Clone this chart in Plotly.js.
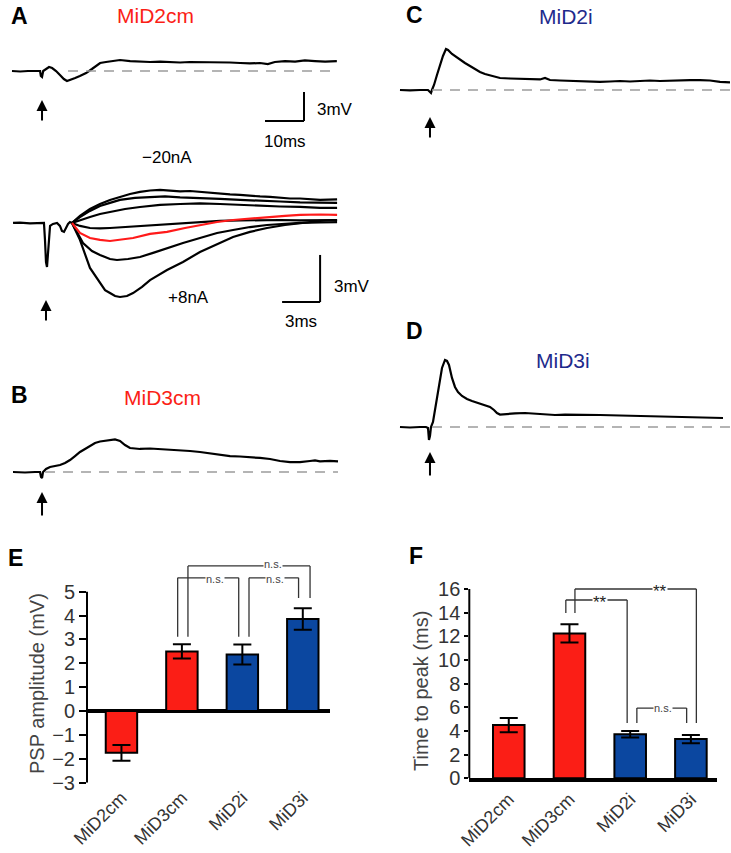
<!DOCTYPE html>
<html>
<head>
<meta charset="utf-8">
<script src="https://cdn.plot.ly/plotly-3.0.1.min.js"></script>
<style>html,body{margin:0;padding:0;background:#fff}#chart{width:731px;height:853px}</style>
</head>
<body>
<div id="chart"></div>
<script>
// ---------- DATA (time in ms, voltage in mV) ----------
// Panel A, top: MiD2cm PSP
const aTopTime = [-7.7,-5.6,-3.6,-1.5,-0.5,-0.3,0,0.3,1.0,1.8,2.6,3.6,4.6,5.6,6.4,7.2,8.5,9.7,11.3,12.8,14.1,14.9,16.4,17.9,20.0,22.6,25.1,27.7,30.3,32.8,35.4,37.9,40.5,43.1,45.6,48.2,50.8,53.3,55.9,57.9,59.7,62.3,64.9,67.4,70.0,72.6,75.6];
const aTopVolt = [0,-0.05,0,-0.05,0,-0.52,-0.62,0,0.21,0.41,0.31,0,-0.41,-0.83,-1.03,-0.93,-0.72,-0.52,-0.21,0.21,0.62,0.83,0.93,1.03,1.14,1.03,0.98,0.93,0.98,0.93,0.88,0.93,0.93,0.88,0.93,0.88,0.83,0.78,0.83,0.72,0.93,1.03,0.98,1.09,1.03,0.98,1.03];

// Panel A, bottom: current steps (-20 nA ... +8 nA); shared segment before divergence
const aPreTime = [-2.6,-2.05,-1.26,-0.47,-0.16,-0.08,0,0.08,0.16,0.24,0.32,0.55,0.87,1.10,1.26,1.42,1.58,1.74,1.89,2.05];
const aPreVolt = [0,0.02,-0.02,0.02,0,-1.08,-2.49,-2.81,-1.72,-0.57,-0.19,-0.06,0,-0.19,-0.51,-0.57,-0.32,-0.06,0.06,0];
const aStep1Time = [2.05,2.68,3.47,4.26,5.05,5.84,6.63,7.42,8.21,9.00,9.79,10.58,11.37,12.15,12.94,13.73,14.52,15.31,16.10,16.89,17.68,18.47,19.26,20.05,20.84,21.63,22.97];
const aStep1Volt = [0,0.45,0.89,1.21,1.47,1.66,1.85,1.98,2.07,2.11,2.07,2.01,2.04,1.98,1.91,1.88,1.82,1.79,1.72,1.69,1.66,1.60,1.56,1.56,1.53,1.47,1.50];
const aStep2Time = [2.05,2.68,3.47,4.26,5.05,5.84,7.02,8.21,9.39,10.58,12.15,13.73,15.31,16.89,18.47,20.05,21.63,22.97];
const aStep2Volt = [0,0.38,0.77,1.08,1.28,1.47,1.60,1.66,1.69,1.63,1.56,1.53,1.47,1.40,1.37,1.31,1.28,1.28];
const aStep3Time = [2.05,2.68,3.47,4.26,5.05,6.24,7.42,9.00,10.58,12.15,13.73,15.31,16.89,18.47,20.05,21.63,22.97];
const aStep3Volt = [0,0.19,0.38,0.57,0.70,0.89,1.02,1.15,1.21,1.25,1.21,1.15,1.12,1.05,1.02,0.96,0.96];
const aStep4Time = [2.05,2.68,3.47,4.26,5.05,6.24,7.42,9.00,10.58,12.15,13.73,15.31,16.89,18.47,20.05,21.63,22.97];
const aStep4Volt = [0,-0.19,-0.32,-0.35,-0.32,-0.26,-0.19,-0.10,0,0.06,0.13,0.16,0.19,0.19,0.16,0.19,0.19];
const aStep6Time = [2.05,2.92,3.63,4.26,5.05,5.60,6.47,7.42,8.45,9.55,10.81,12.15,13.50,14.76,16.10,17.44,18.86,20.05,21.63,22.97];
const aStep6Volt = [0,-1.28,-1.79,-2.04,-2.30,-2.36,-2.30,-2.17,-1.91,-1.60,-1.28,-0.96,-0.64,-0.45,-0.26,-0.13,-0.06,0,0.03,0.06];
const aStep7Time = [2.05,2.68,3.47,4.26,4.66,5.05,5.45,5.84,6.39,6.87,7.58,8.21,8.84,9.55,10.18,10.81,12.15,13.50,14.76,16.10,17.44,18.86,20.05,21.63,22.97];
const aStep7Volt = [0,-1.08,-2.87,-3.83,-4.28,-4.47,-4.66,-4.72,-4.66,-4.47,-4.08,-3.64,-3.32,-3.00,-2.74,-2.49,-1.85,-1.34,-0.89,-0.57,-0.32,-0.13,0,0.13,0.19];
// red (0 nA) trace
const aRedTime = [2.05,2.68,3.47,4.26,5.05,5.84,6.87,8.21,9.55,10.97,12.15,13.50,14.76,16.10,17.44,18.86,20.05,21.63,22.97];
const aRedVolt = [0,-0.64,-0.96,-1.08,-1.15,-1.08,-0.96,-0.70,-0.57,-0.32,-0.13,0.06,0.19,0.29,0.38,0.45,0.51,0.54,0.51];

// Panel B: MiD3cm PSP
const bTime = [-7.44,-4.36,-1.79,-0.51,-0.26,0,0.26,1.03,2.05,3.33,4.62,5.90,7.18,8.46,9.74,11.03,12.31,13.59,14.87,16.15,17.44,18.72,20.0,21.28,22.56,25.13,27.69,30.26,32.82,35.38,37.95,40.51,43.08,45.64,48.21,50.77,53.33,55.90,58.46,61.03,63.59,66.15,68.72,70.0,71.28,73.85,75.90];
const bVolt = [0,-0.05,0,0,-0.52,-0.62,0,0.31,0.52,0.62,0.72,0.93,1.24,1.65,2.07,2.38,2.69,3.00,3.15,3.21,3.31,3.36,3.21,2.79,2.48,2.38,2.43,2.38,2.28,2.22,2.17,2.07,1.91,1.76,1.65,1.60,1.55,1.45,1.34,1.14,1.03,1.03,1.14,1.19,1.09,1.14,1.09];

// Panel C: MiD2i PSP
const cTime = [-7.69,-5.13,-2.56,-0.51,0,0.26,0.51,1.03,1.79,2.56,3.33,4.10,4.62,5.64,6.67,7.69,8.97,10.26,11.54,12.82,14.10,15.38,16.67,17.95,20.51,23.08,25.64,28.21,29.49,30.77,33.33,35.90,38.46,41.03,43.59,46.15,48.72,51.28,53.85,56.41,58.97,61.54,64.10,66.67,69.23,71.79,74.36,76.92];
const cVolt = [0,-0.05,0,0,-0.21,-0.31,0,0.52,1.55,2.59,3.52,4.24,4.14,3.72,3.41,3.10,2.79,2.48,2.17,1.86,1.65,1.50,1.34,1.24,1.19,1.14,1.09,1.09,1.24,1.03,0.98,0.93,0.93,0.88,0.83,0.88,0.93,0.88,0.93,0.98,0.93,0.98,1.03,1.03,1.03,0.98,0.83,0.78];

// Panel D: MiD3i PSP
const dTime = [-7.69,-5.13,-2.56,-1.03,-0.51,-0.26,0,0.26,0.77,1.54,2.31,3.08,3.85,4.36,4.87,5.64,6.41,7.18,8.21,9.49,10.77,12.31,13.85,15.38,16.41,17.18,17.95,19.23,21.79,24.36,26.92,29.49,32.05,34.62,38.46,43.59,48.72,53.85,58.97,64.10,69.23,73.08,75.13];
const dVolt = [0,-0.05,0,0,-0.10,-1.34,-0.93,0,0.52,2.28,4.34,6.10,6.93,6.83,6.41,5.07,4.14,3.62,3.21,2.90,2.69,2.48,2.28,2.07,1.76,1.45,1.29,1.34,1.40,1.45,1.40,1.29,1.24,1.29,1.24,1.24,1.19,1.14,1.09,1.03,1.03,0.98,0.93];

// Panels E and F: summary bars
const categories = ['MiD2cm','MiD3cm','MiD2i','MiD3i'];
const pspAmplitude = [-1.75, 2.5, 2.37, 3.86];
const pspError = [0.33, 0.3, 0.42, 0.45];
const timeToPeak = [4.5, 12.25, 3.72, 3.32];
const timeError = [0.6, 0.78, 0.27, 0.35];
const yTicksE = [-3,-2,-1,0,1,2,3,4,5];
const yTicksF = [0,2,4,6,8,10,12,14,16];

// ---------- STYLE / LAYOUT ----------
const W = 731, H = 853;
const FONT = 'Liberation Sans, Arial, Helvetica, sans-serif';
const RED = '#fb1e16', BLUE = '#0b47a0', NAVY = '#1e2a8c';
const barColors = ['red','red','blue','blue'].map(c => c === 'red' ? RED : BLUE);
const catIdx = categories.map((c, i) => i);
const px = x => x / W;
const py = y => 1 - y / H;
const xd = (a, b) => [a / W, b / W];
const yd = (top, bot) => [1 - bot / H, 1 - top / H];

function hiddenAxis(range, domain, anchor) {
  return {range: range, domain: domain, anchor: anchor, visible: false, fixedrange: true};
}
function line(x, y, xa, ya, color, name) {
  return {type: 'scatter', mode: 'lines', x: x, y: y, xaxis: xa, yaxis: ya, name: name,
          line: {color: color, width: 2.2}, hoverinfo: 'skip', showlegend: false};
}

const traces = [
  line(aTopTime, aTopVolt, 'x', 'y', 'black', 'MiD2cm'),
  line(aPreTime, aPreVolt, 'x2', 'y2', 'black', 'pre'),
  line(aStep1Time, aStep1Volt, 'x2', 'y2', 'black', '-20nA'),
  line(aStep2Time, aStep2Volt, 'x2', 'y2', 'black', 'step2'),
  line(aStep3Time, aStep3Volt, 'x2', 'y2', 'black', 'step3'),
  line(aStep4Time, aStep4Volt, 'x2', 'y2', 'black', 'step4'),
  line(aStep6Time, aStep6Volt, 'x2', 'y2', 'black', 'step6'),
  line(aStep7Time, aStep7Volt, 'x2', 'y2', 'black', '+8nA'),
  line(aRedTime, aRedVolt, 'x2', 'y2', '#ff1a1a', '0nA'),
  line(bTime, bVolt, 'x3', 'y3', 'black', 'MiD3cm'),
  line(cTime, cVolt, 'x4', 'y4', 'black', 'MiD2i'),
  line(dTime, dVolt, 'x5', 'y5', 'black', 'MiD3i'),
  {type: 'bar', x: catIdx, y: pspAmplitude, xaxis: 'x6', yaxis: 'y6', width: 0.52,
   marker: {color: barColors, line: {color: 'black', width: 2}},
   error_y: {type: 'data', array: pspError, visible: true, color: 'black', thickness: 2, width: 9},
   showlegend: false, hoverinfo: 'skip'},
  {type: 'bar', x: catIdx, y: timeToPeak, xaxis: 'x7', yaxis: 'y7', width: 0.52,
   marker: {color: barColors, line: {color: 'black', width: 2}},
   error_y: {type: 'data', array: timeError, visible: true, color: 'black', thickness: 2, width: 9},
   showlegend: false, hoverinfo: 'skip'}
];

const dashStyle = {color: '#9c9c9c', width: 1.5, dash: '10px,8px'};
const blk = {color: 'black', width: 2};
const brk = {color: '#333', width: 1.3};
function seg(xref, yref, x0, y0, x1, y1, ln) {
  return {type: 'line', xref: xref, yref: yref, x0: x0, y0: y0, x1: x1, y1: y1, line: ln};
}
const shapes = [
  // baselines
  seg('x', 'y', 6.67, 0, 75.64, 0, dashStyle),
  seg('x3', 'y3', 0.77, 0, 75.9, 0, dashStyle),
  seg('x4', 'y4', 0.51, 0, 76.92, 0, dashStyle),
  seg('x5', 'y5', 0.51, 0, 76.92, 0, dashStyle),
  // scale bars: A top 10 ms / 3 mV
  seg('x', 'y', 67.18, -2.17, 67.18, -5.17, blk),
  seg('x', 'y', 57.18, -5.17, 67.18, -5.17, blk),
  // A bottom 3 ms / 3 mV
  seg('x2', 'y2', 21.63, -2.04, 21.63, -5.04, blk),
  seg('x2', 'y2', 18.63, -5.04, 21.63, -5.04, blk),
  // y-axis spines of E and F
  seg('x6 domain', 'y6', 0, -3, 0, 5, blk),
  seg('x7 domain', 'y7', 0, 0, 0, 16, blk),
  // E brackets
  seg('x6', 'y6', 0.93, 3.11, 0.93, 5.58, brk), seg('x6', 'y6', 0.93, 5.58, 1.94, 5.58, brk), seg('x6', 'y6', 1.94, 5.58, 1.94, 3.11, brk),
  seg('x6', 'y6', 2.11, 3.11, 2.11, 5.58, brk), seg('x6', 'y6', 2.11, 5.58, 2.93, 5.58, brk), seg('x6', 'y6', 2.93, 5.58, 2.93, 4.74, brk),
  seg('x6', 'y6', 1.10, 3.11, 1.10, 6.08, brk), seg('x6', 'y6', 1.10, 6.08, 3.12, 6.08, brk), seg('x6', 'y6', 3.12, 6.08, 3.12, 4.74, brk),
  // F brackets
  seg('x7', 'y7', 0.94, 13.97, 0.94, 15.07, brk), seg('x7', 'y7', 0.94, 15.07, 1.95, 15.07, brk), seg('x7', 'y7', 1.95, 15.07, 1.95, 4.67, brk),
  seg('x7', 'y7', 1.09, 13.97, 1.09, 16.0, brk), seg('x7', 'y7', 1.09, 16.0, 3.09, 16.0, brk), seg('x7', 'y7', 3.09, 16.0, 3.09, 4.67, brk),
  seg('x7', 'y7', 2.11, 4.67, 2.11, 5.94, brk), seg('x7', 'y7', 2.11, 5.94, 2.93, 5.94, brk), seg('x7', 'y7', 2.93, 5.94, 2.93, 4.67, brk)
];

function txt(x, y, s, size, color, opts) {
  return Object.assign({xref: 'paper', yref: 'paper', x: px(x), y: py(y), text: s, showarrow: false,
    xanchor: 'center', yanchor: 'middle', font: {family: FONT, size: size, color: color}}, opts || {});
}
function arrow(xa, t, yHead, len) {
  return {xref: xa, yref: 'paper', x: t, y: py(yHead), text: '', showarrow: true, ax: 0, ay: len,
          arrowhead: 2, arrowsize: 1.1, arrowwidth: 2, arrowcolor: 'black', standoff: 0};
}
function sig(xa, ya, x, y, s, size, color, shift) {
  return {xref: xa, yref: ya, x: x, y: y, text: s, showarrow: false, bgcolor: 'white', borderpad: 0,
          yshift: shift || 0, xanchor: 'center', yanchor: 'middle', font: {family: FONT, size: size, color: color}};
}
const annotations = [
  txt(19, 16, '<b>A</b>', 23, 'black'),
  txt(155, 16, 'MiD2cm', 21, RED),
  txt(315, 109, '3mV', 17, 'black', {xanchor: 'left'}),
  txt(285, 141, '10ms', 17, 'black'),
  txt(167, 158, '\u221220nA', 17, 'black'),
  txt(188, 298, '+8nA', 17, 'black'),
  txt(332, 286, '3mV', 17, 'black', {xanchor: 'left'}),
  txt(301, 321, '3ms', 17, 'black'),
  txt(19, 395, '<b>B</b>', 23, 'black'),
  txt(162, 397, 'MiD3cm', 21, RED),
  txt(414, 15, '<b>C</b>', 23, 'black'),
  txt(566, 17, 'MiD2i', 21, NAVY),
  txt(414, 331, '<b>D</b>', 23, 'black'),
  txt(563, 360, 'MiD3i', 21, NAVY),
  txt(15, 558, '<b>E</b>', 23, 'black'),
  txt(416, 556, '<b>F</b>', 23, 'black'),
  txt(37, 684, 'PSP amplitude (mV)', 20, '#444', {textangle: -90}),
  txt(421, 691, 'Time to peak (ms)', 20, '#444', {textangle: -90}),
  arrow('x', 0, 100, 22),
  arrow('x2', 0, 300, 22),
  arrow('x3', 0, 492, 25),
  arrow('x4', 0, 117, 22),
  arrow('x5', 0, 452, 25),
  sig('x6', 'y6', 1.55, 5.58, 'n.s.', 11, '#444', -1),
  sig('x6', 'y6', 2.54, 5.58, 'n.s.', 11, '#444', -1),
  sig('x6', 'y6', 2.50, 6.08, 'n.s.', 11, '#444', 2),
  sig('x7', 'y7', 1.50, 15.07, '**', 17, '#222', -2),
  sig('x7', 'y7', 2.49, 16.0, '**', 17, '#222', -2),
  sig('x7', 'y7', 2.54, 5.94, 'n.s.', 11, '#444')
];

const yTickFont = {family: FONT, size: 20, color: '#333'};
const xTickFont = {family: FONT, size: 18, color: '#333'};
const layout = {
  width: W, height: H, margin: {l: 0, r: 0, t: 0, b: 0, pad: 0},
  paper_bgcolor: 'white', plot_bgcolor: 'rgba(0,0,0,0)', showlegend: false,
  font: {family: FONT},
  xaxis: hiddenAxis([-8.21, 76.41], xd(10, 340), 'y'),
  yaxis: hiddenAxis([-6.10, 2.69], yd(45, 130), 'x'),
  xaxis2: hiddenAxis([-2.84, 23.20], xd(10, 340), 'y2'),
  yaxis2: hiddenAxis([-5.55, 2.74], yd(180, 310), 'x2'),
  xaxis3: hiddenAxis([-8.21, 76.41], xd(10, 340), 'y3'),
  yaxis3: hiddenAxis([-1.86, 4.34], yd(430, 490), 'x3'),
  xaxis4: hiddenAxis([-8.97, 77.18], xd(395, 731), 'y4'),
  yaxis4: hiddenAxis([-5.69, 5.17], yd(40, 145), 'x4'),
  xaxis5: hiddenAxis([-8.97, 77.18], xd(395, 731), 'y5'),
  yaxis5: hiddenAxis([-1.86, 7.96], yd(350, 445), 'x5'),
  xaxis6: {range: [-0.57, 3.45], domain: xd(87, 330), anchor: 'y6', tickvals: catIdx, ticktext: categories,
           tickangle: -45, tickfont: xTickFont, showgrid: false, zeroline: false, showline: false, ticks: '',
           automargin: false, fixedrange: true},
  yaxis6: {range: [-3, 6.3], domain: yd(560.66, 782.7), anchor: 'x6', tickvals: yTicksE, tickfont: yTickFont,
           ticks: 'outside', ticklen: 7, tickwidth: 2, tickcolor: 'black', showgrid: false, showline: false,
           zeroline: true, zerolinecolor: 'black', zerolinewidth: 3.5, automargin: false, fixedrange: true},
  xaxis7: {range: [-0.65, 3.43], domain: xd(469.3, 717), anchor: 'y7', tickvals: catIdx, ticktext: categories,
           tickangle: -45, tickfont: xTickFont, showgrid: false, zeroline: false, showline: true, linecolor: 'black',
           linewidth: 3.5, ticks: '', automargin: false, fixedrange: true},
  yaxis7: {range: [0, 16.5], domain: yd(583.1, 778.3), anchor: 'x7', tickvals: yTicksF, tickfont: yTickFont,
           ticks: 'outside', ticklen: 4, tickwidth: 2, tickcolor: 'black', showgrid: false, showline: false,
           zeroline: false, automargin: false, fixedrange: true},
  shapes: shapes,
  annotations: annotations
};

Plotly.newPlot('chart', traces, layout, {staticPlot: true, displayModeBar: false});
</script>
</body>
</html>
